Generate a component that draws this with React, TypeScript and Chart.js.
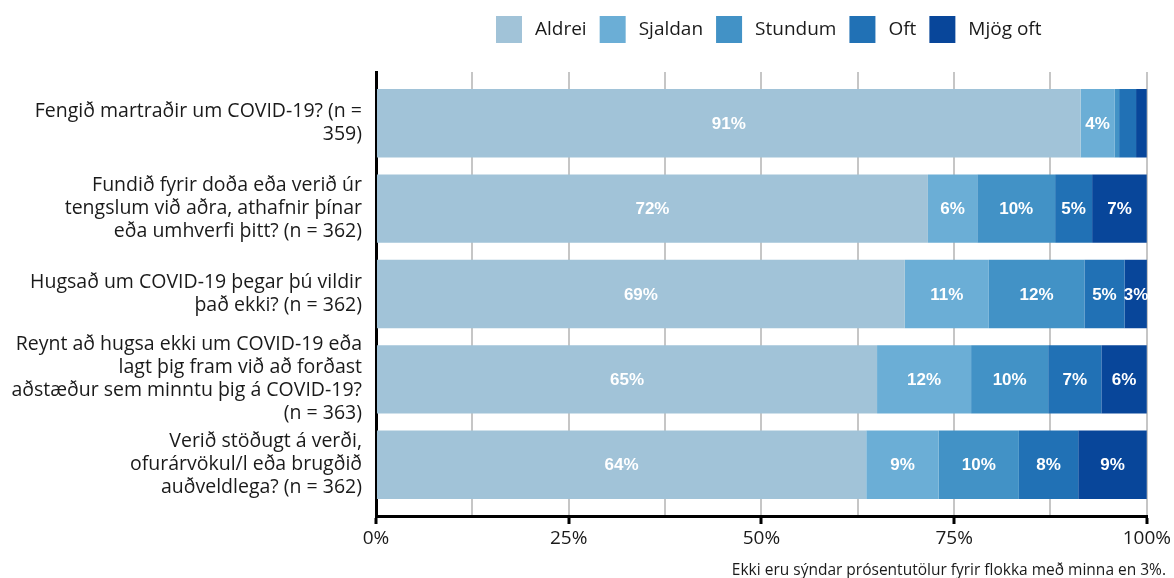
import React, { useEffect, useRef } from "react";
import { Chart, registerables } from "chart.js";

Chart.register(...registerables);

const categories: string[][] = [
  ["Fengið martraðir um COVID-19? (n =", "359)"],
  ["Fundið fyrir doða eða verið úr", "tengslum við aðra, athafnir þínar", "eða umhverfi þitt? (n = 362)"],
  ["Hugsað um COVID-19 þegar þú vildir", "það ekki? (n = 362)"],
  ["Reynt að hugsa ekki um COVID-19 eða", "lagt þig fram við að forðast", "aðstæður sem minntu þig á COVID-19?", "(n = 363)"],
  ["Verið stöðugt á verði,", "ofurárvökul/l eða brugðið", "auðveldlega? (n = 362)"],
];

const seriesNames = ["Aldrei", "Sjaldan", "Stundum", "Oft", "Mjög oft"];
const aldrei = [91.4, 71.6, 68.6, 65.0, 63.6];
const sjaldan = [4.4, 6.4, 10.9, 12.2, 9.4];
const stundum = [0.6, 10.1, 12.4, 10.0, 10.4];
const oft = [2.2, 4.8, 5.2, 6.9, 7.7];
const mjogOft = [1.4, 7.1, 3.0, 5.9, 8.9];
const colors = ["#a1c3d8", "#6baed6", "#4292c6", "#2171b5", "#08469a"];
const xTicks = [0, 12.5, 25, 37.5, 50, 62.5, 75, 87.5, 100];
const caption = "Ekki eru sýndar prósentutölur fyrir flokka með minna en 3%.";

const FONT = "'Open Sans', Lato, sans-serif";
const TEXT = "#1a1a1a";

const valueLabels = {
  id: "valueLabels",
  afterDatasetsDraw(chart: any) {
    const ctx = chart.ctx;
    ctx.save();
    ctx.fillStyle = "#ffffff";
    ctx.font = "bold 17px 'Liberation Sans', Arial, sans-serif";
    ctx.textAlign = "center";
    ctx.textBaseline = "middle";
    chart.data.datasets.forEach((ds: any, di: number) => {
      const meta = chart.getDatasetMeta(di);
      meta.data.forEach((el: any, i: number) => {
        const v = ds.data[i].x;
        if (v >= 3) {
          const cx = (el.x + el.base) / 2;
          ctx.fillText(Math.round(v) + "%", cx, el.y + 1);
        }
      });
    });
    ctx.restore();
  },
};

const customLegend = {
  id: "customLegend",
  afterDraw(chart: any) {
    const ctx = chart.ctx;
    ctx.save();
    ctx.font = `19px ${FONT}`;
    ctx.textBaseline = "middle";
    ctx.textAlign = "left";
    let x = 496;
    const y = 16;
    const box = 26;
    chart.data.datasets.forEach((ds: any) => {
      ctx.fillStyle = ds.backgroundColor;
      ctx.fillRect(x, y, box, 27);
      x += box + 13;
      ctx.fillStyle = TEXT;
      ctx.fillText(ds.label, x, y + 14);
      x += ctx.measureText(ds.label).width + 13;
    });
    ctx.font = `15.5px ${FONT}`;
    ctx.textAlign = "right";
    ctx.fillText(caption, 1166, 571);
    ctx.restore();
  },
};

export default function App() {
  const ref = useRef<HTMLCanvasElement | null>(null);
  useEffect(() => {
    if (!ref.current) return;
    const series = [aldrei, sjaldan, stundum, oft, mjogOft];
    const chart = new Chart(ref.current, {
      type: "bar",
      data: {
        datasets: series.map((arr, si) => ({
          label: seriesNames[si],
          data: arr.map((v, i) => ({ x: v, y: i })),
          backgroundColor: colors[si],
          borderWidth: 0,
          barPercentage: 1,
          categoryPercentage: 0.8,
        })) as any,
      },
      options: {
        indexAxis: "y",
        animation: false,
        responsive: true,
        maintainAspectRatio: false,
        layout: { padding: { top: 72, right: 27, bottom: 0, left: 0 } },
        plugins: {
          legend: { display: false },
          tooltip: { enabled: false },
          title: { display: false },
        },
        scales: {
          x: {
            type: "linear",
            stacked: true,
            min: 0,
            max: 100,
            offset: false,
            afterBuildTicks: (s: any) => {
              s.ticks = xTicks.map((v) => ({ value: v }));
            },
            afterFit: (s: any) => {
              s.height = 62;
            },
            border: { display: true, color: "#000000", width: 3 },
            grid: {
              color: (c: any) => (c.tick && c.tick.value === 0 ? "rgba(0,0,0,0)" : "#c6c6c6"),
              lineWidth: 2,
              drawTicks: true,
              tickLength: 8,
              tickColor: (c: any) => (c.tick && c.tick.value % 25 === 0 ? "#000000" : "rgba(0,0,0,0)"),
              tickWidth: 3,
            },
            ticks: {
              autoSkip: false,
              maxRotation: 0,
              padding: 3,
              color: TEXT,
              font: { family: FONT, size: 19 },
              callback: (v: any) => (Number(v) % 25 === 0 ? `${v}%` : ""),
            },
          },
          y: {
            type: "linear",
            stacked: true,
            reverse: true,
            offset: false,
            min: -0.6,
            max: 4.6,
            afterBuildTicks: (s: any) => {
              s.ticks = categories.map((_, i) => ({ value: i }));
            },
            afterFit: (s: any) => {
              s.width = 376;
            },
            border: { display: true, color: "#000000", width: 3 },
            grid: { display: false, drawTicks: false },
            ticks: {
              autoSkip: false,
              padding: 14,
              color: TEXT,
              font: { family: FONT, size: 19.5, lineHeight: 1.18 },
              callback: (v: any) => {
                const i = Math.round(Number(v));
                return categories[i] ? categories[i] : "";
              },
            },
          },
        },
      },
      plugins: [valueLabels, customLegend],
    });
    return () => chart.destroy();
  }, []);

  return (
    <div style={{ position: "absolute", left: 0, top: 0, width: 1174, height: 578 }}>
      <canvas ref={ref} />
    </div>
  );
}
